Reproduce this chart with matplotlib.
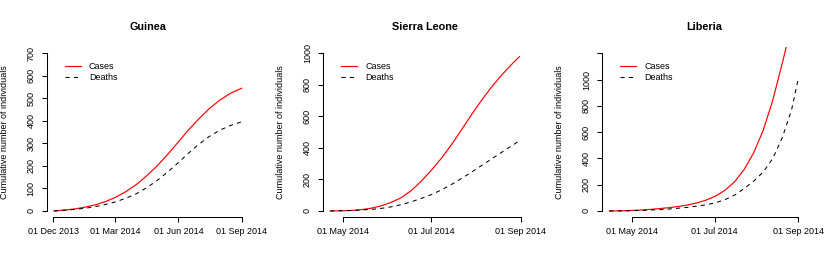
import matplotlib
matplotlib.use('Agg')
import matplotlib.pyplot as plt
import matplotlib.dates as mdates
import pandas as pd

# values (cumulative counts)
guinea_dates = ['2013-12-02', '2013-12-16', '2014-01-01', '2014-01-16', '2014-02-01', '2014-02-15',
                '2014-03-01', '2014-03-16', '2014-04-01', '2014-04-15', '2014-05-01', '2014-05-16',
                '2014-06-01', '2014-06-15', '2014-07-01', '2014-07-16', '2014-08-01', '2014-08-16',
                '2014-09-01']
guinea_cases = [0, 4, 9, 17, 28, 42, 60, 85, 118, 154, 200, 250, 307, 358, 410, 455, 494, 523, 545]
guinea_deaths = [0, 3, 7, 12, 20, 29, 40, 56, 77, 102, 135, 172, 215, 255, 297, 331, 360, 380, 396]

sl_dates = ['2014-04-22', '2014-04-29', '2014-05-06', '2014-05-13', '2014-05-20', '2014-05-27',
            '2014-06-03', '2014-06-10', '2014-06-17', '2014-06-24', '2014-07-01', '2014-07-08',
            '2014-07-15', '2014-07-22', '2014-07-29', '2014-08-05', '2014-08-12', '2014-08-19',
            '2014-08-26', '2014-08-31']
sl_cases = [0, 1, 3, 8, 17, 32, 54, 84, 129, 189, 259, 335, 422, 517, 614, 706, 790, 866, 934, 979]
sl_deaths = [0, 2, 3, 6, 10, 16, 26, 40, 58, 80, 104, 134, 169, 207, 248, 290, 332, 374, 416, 446]

lib_case_dates = ['2014-04-14', '2014-04-23', '2014-04-30', '2014-05-07', '2014-05-14', '2014-05-21',
                  '2014-05-28', '2014-06-04', '2014-06-11', '2014-06-18', '2014-06-25', '2014-07-02',
                  '2014-07-09', '2014-07-16', '2014-07-23', '2014-07-30', '2014-08-06', '2014-08-13',
                  '2014-08-20', '2014-08-25']
lib_cases = [0, 1, 4, 7, 12, 18, 25, 34, 46, 62, 84, 115, 160, 225, 318, 445, 615, 840, 1120, 1330]
lib_death_dates = ['2014-04-14', '2014-04-23', '2014-04-30', '2014-05-07', '2014-05-14', '2014-05-21',
                   '2014-05-28', '2014-06-04', '2014-06-11', '2014-06-18', '2014-06-25', '2014-07-02',
                   '2014-07-09', '2014-07-16', '2014-07-23', '2014-07-30', '2014-08-06', '2014-08-13',
                   '2014-08-20', '2014-08-27', '2014-09-01']
lib_deaths = [0, 1, 2, 4, 7, 10, 15, 21, 28, 37, 48, 63, 88, 122, 172, 228, 297, 399, 555, 770, 1009]

titles = ['Guinea', 'Sierra Leone', 'Liberia']
xticks = [['2013-12-01', '2014-03-01', '2014-06-01', '2014-09-01'],
          ['2014-05-01', '2014-07-01', '2014-09-01'],
          ['2014-05-01', '2014-07-01', '2014-09-01']]
yticks = [list(range(0, 701, 100)), list(range(0, 1001, 200)), list(range(0, 1201, 200))]
ytick_labels = [[str(v) for v in yticks[0]], [str(v) for v in yticks[1]],
                [str(v) for v in yticks[2][:-1]] + ['']]

plt.rcParams.update({'font.family': ['Liberation Sans', 'DejaVu Sans'], 'font.size': 6.5})
W, H = 830, 275
fig = plt.figure(figsize=(W / 100, H / 100), dpi=100)

# axes boxes in pixels: left, width (top 47, bottom 217.3)
boxes = [(46.5, 202.7), (322.7, 204.4), (601.8, 204.1)]
top_px, bot_px = 47.0, 217.3

series = [(guinea_dates, guinea_cases, guinea_dates, guinea_deaths),
          (sl_dates, sl_cases, sl_dates, sl_deaths),
          (lib_case_dates, lib_cases, lib_death_dates, lib_deaths)]

for i, (cd, cv, dd, dv) in enumerate(series):
    l, w = boxes[i]
    ax = fig.add_axes([l / W, (H - bot_px) / H, w / W, (bot_px - top_px) / H])
    ax.plot(pd.to_datetime(cd), cv, color='red', lw=0.85, label='Cases')
    ax.plot(pd.to_datetime(dd), dv, color='black', lw=0.75, ls=(0, (4, 4)), label='Deaths')
    ax.margins(x=0.04)
    ytop = yticks[i][-1]
    ax.set_ylim(-0.04 * ytop, 1.04 * ytop)
    xt = pd.to_datetime(xticks[i])
    ax.set_xticks(xt)
    ax.xaxis.set_major_formatter(mdates.DateFormatter('%d %b %Y'))
    ax.set_yticks(yticks[i])
    ax.set_yticklabels(ytick_labels[i], rotation=90, va='center')
    for s in ('top', 'right'):
        ax.spines[s].set_visible(False)
    ax.spines['left'].set_bounds(0, ytop)
    ax.spines['bottom'].set_bounds(mdates.date2num(xt[0]), mdates.date2num(xt[-1]))
    for s in ('left', 'bottom'):
        ax.spines[s].set_linewidth(0.75)
    ax.tick_params(length=3.8, width=0.75, colors='black')
    ax.tick_params(axis='x', pad=3)
    ax.tick_params(axis='y', pad=4)
    ax.set_ylabel('Cumulative number of individuals')
    ax.yaxis.set_label_coords(-38 / w, 0.5)
    ax.set_title(titles[i], fontweight='bold', fontsize=7.8, pad=12.5)
    ax.legend(loc='upper left', bbox_to_anchor=((65 - 47) / w, 0.912), frameon=False,
              borderpad=0, borderaxespad=0, handlelength=1.8, handletextpad=0.9,
              labelspacing=0.25)

fig.savefig('out.png', dpi=100)
